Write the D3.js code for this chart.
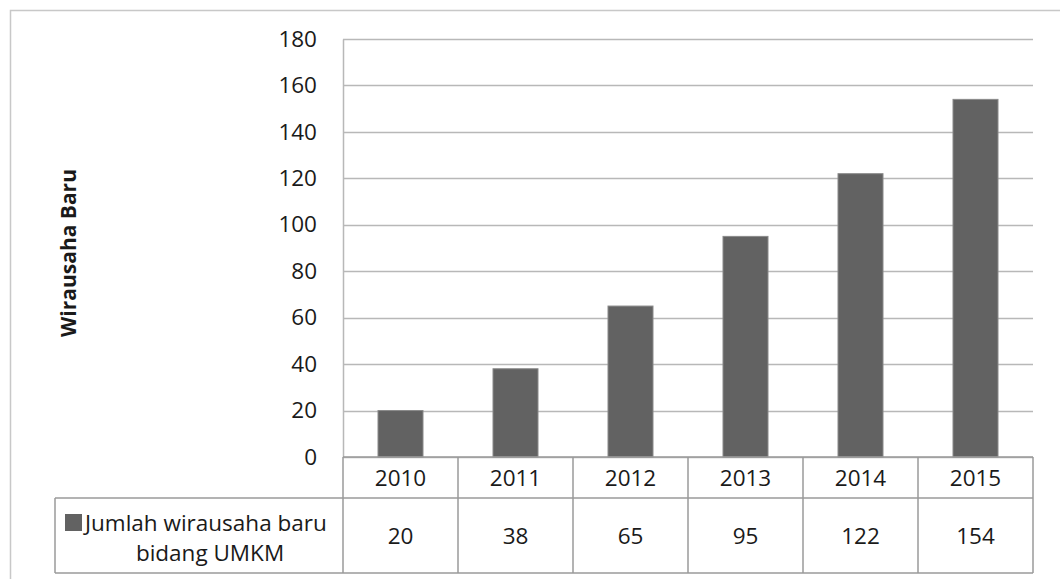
<!DOCTYPE html>
<html>
<head>
<meta charset="utf-8">
<script src="https://cdn.jsdelivr.net/npm/d3@7"></script>
<style>
  body { margin: 0; background: #fff; }
  text { font-family: "Open Sans", sans-serif; fill: #1a1a1a; }
</style>
</head>
<body>
<div id="chart"></div>
<script>
// data
var years = ["2010", "2011", "2012", "2013", "2014", "2015"];
var values = [20, 38, 65, 95, 122, 154];
var yTicks = [0, 20, 40, 60, 80, 100, 120, 140, 160, 180];
var seriesName = ["Jumlah wirausaha baru", "bidang UMKM"];
var yTitle = "Wirausaha Baru";

var W = 1060, H = 579;
var fs = "22.5px";
var margin = {top: 39, right: 27, bottom: 122, left: 343},
    width = W - margin.left - margin.right,
    height = H - margin.top - margin.bottom;

var svg = d3.select("#chart")
  .append("svg")
    .attr("width", W)
    .attr("height", H);

// outer frame
svg.append("rect")
  .attr("x", 10.5).attr("y", 10.5)
  .attr("width", W + 10).attr("height", H + 10)
  .attr("fill", "none")
  .attr("stroke", "#c8c8c8")
  .attr("stroke-width", 1.5);

var g = svg.append("g")
  .attr("transform", "translate(" + margin.left + "," + margin.top + ")");

var x = d3.scaleBand()
  .domain(years)
  .range([0, width]);

var y = d3.scaleLinear()
  .domain([0, 180])
  .range([height, 0]);

// gridlines
g.selectAll(".grid")
  .data(yTicks)
  .enter()
  .append("line")
    .attr("x1", 0).attr("x2", width)
    .attr("y1", function(d) { return Math.round(y(d)) + 0.5; })
    .attr("y2", function(d) { return Math.round(y(d)) + 0.5; })
    .attr("stroke", "#b8b8b8")
    .attr("stroke-width", 1.5);

// y axis
var yAxis = g.append("g")
  .call(d3.axisLeft(y).tickValues(yTicks).tickSize(0).tickPadding(26));
yAxis.select(".domain").attr("stroke", "#b8b8b8").attr("stroke-width", 1.5);
yAxis.selectAll("text")
  .style("font-size", fs)
  .style("font-family", "'Open Sans', sans-serif")
  .attr("fill", "#1a1a1a");

// bars
var barW = 45;
g.selectAll(".bar")
  .data(values)
  .enter()
  .append("rect")
    .attr("x", function(d, i) { return x(years[i]) + x.bandwidth() / 2 - barW / 2; })
    .attr("y", function(d) { return y(d); })
    .attr("width", barW)
    .attr("height", function(d) { return y(0) - y(d); })
    .attr("fill", "#626262")
    .attr("stroke", "#8a8a8a")
    .attr("stroke-width", 1);

// data table
var row1 = 41, row2 = 75;
var tableLeft = 55 - margin.left;
var t = g.append("g").attr("transform", "translate(0," + height + ")");
var lineCol = "#9a9a9a";

// horizontal lines
t.append("line").attr("x1", 0).attr("x2", width).attr("y1", 0).attr("y2", 0)
  .attr("stroke", lineCol).attr("stroke-width", 1.5);
t.append("line").attr("x1", tableLeft).attr("x2", width).attr("y1", row1).attr("y2", row1)
  .attr("stroke", lineCol).attr("stroke-width", 1.5);
t.append("line").attr("x1", tableLeft).attr("x2", width).attr("y1", row1 + row2).attr("y2", row1 + row2)
  .attr("stroke", lineCol).attr("stroke-width", 1.5);
t.append("line").attr("x1", tableLeft).attr("x2", tableLeft).attr("y1", row1).attr("y2", row1 + row2)
  .attr("stroke", lineCol).attr("stroke-width", 1.5);

// vertical lines
var edges = years.map(function(d) { return x(d); }).concat([width]);
t.selectAll(".vline")
  .data(edges)
  .enter()
  .append("line")
    .attr("x1", function(d) { return d; })
    .attr("x2", function(d) { return d; })
    .attr("y1", 0).attr("y2", row1 + row2)
    .attr("stroke", lineCol).attr("stroke-width", 1.5);

// year labels
t.selectAll(".yr")
  .data(years)
  .enter()
  .append("text")
    .attr("x", function(d) { return x(d) + x.bandwidth() / 2; })
    .attr("y", row1 / 2 + 8)
    .attr("text-anchor", "middle")
    .style("font-size", fs)
    .text(function(d) { return d; });

// value labels
t.selectAll(".val")
  .data(values)
  .enter()
  .append("text")
    .attr("x", function(d, i) { return x(years[i]) + x.bandwidth() / 2; })
    .attr("y", row1 + row2 / 2 + 8)
    .attr("text-anchor", "middle")
    .style("font-size", fs)
    .text(function(d) { return d; });

// legend key in table
t.append("rect")
  .attr("x", 65 - margin.left).attr("y", row1 + 16)
  .attr("width", 17).attr("height", 17)
  .attr("fill", "#626262");
t.append("text")
  .attr("x", 85 - margin.left).attr("y", row1 + 33)
  .style("font-size", fs)
  .text(seriesName[0]);
t.append("text")
  .attr("x", 210 - margin.left).attr("y", row1 + 63)
  .attr("text-anchor", "middle")
  .style("font-size", fs)
  .text(seriesName[1]);

// y axis title
svg.append("text")
  .attr("transform", "translate(76,253) rotate(-90)")
  .attr("text-anchor", "middle")
  .style("font-size", "21px")
  .style("font-weight", "bold")
  .text(yTitle);
</script>
</body>
</html>
